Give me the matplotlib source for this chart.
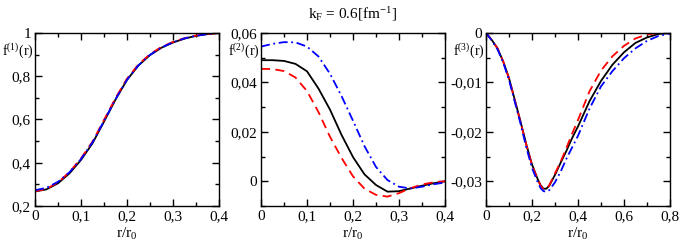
import numpy as np
import matplotlib
matplotlib.use('Agg')
import matplotlib.pyplot as plt
from matplotlib.ticker import MultipleLocator, FuncFormatter

plt.rcParams['font.family'] = 'Liberation Serif'
plt.rcParams['mathtext.fontset'] = 'custom'
plt.rcParams['mathtext.rm'] = 'Liberation Serif'
plt.rcParams['mathtext.it'] = 'Liberation Serif:italic'

# panel 1 / 2 grid
r_a = [0, 0.025, 0.05, 0.075, 0.1, 0.125, 0.15, 0.175, 0.2, 0.225, 0.25,
       0.275, 0.3, 0.325, 0.35, 0.375, 0.4]
f1_black = [0.267, 0.277, 0.305, 0.351, 0.413, 0.49, 0.59, 0.692, 0.783, 0.85,
            0.898, 0.932, 0.956, 0.974, 0.987, 0.995, 1.0]
f1_red = [0.268, 0.279, 0.309, 0.357, 0.42, 0.498, 0.598, 0.699, 0.789, 0.855,
          0.902, 0.936, 0.959, 0.976, 0.988, 0.996, 1.0]
f1_blue = [0.273, 0.284, 0.312, 0.356, 0.417, 0.494, 0.593, 0.694, 0.784, 0.851,
           0.899, 0.933, 0.957, 0.975, 0.987, 0.995, 1.0]

f2_black = [0.049, 0.049, 0.0487, 0.0475, 0.0445, 0.0375, 0.029, 0.0188, 0.0098,
            0.0028, -0.0015, -0.0042, -0.004, -0.0029, -0.0018, -0.0008, 0.0]
f2_red = [0.0455, 0.0454, 0.0446, 0.042, 0.0365, 0.028, 0.018, 0.0095, 0.002,
          -0.003, -0.0055, -0.0062, -0.0048, -0.0028, -0.0013, -0.0004, 0.0]
f2_blue = [0.0545, 0.0556, 0.0563, 0.0562, 0.0545, 0.0505, 0.0435, 0.0345, 0.0245,
           0.0142, 0.0058, 0.0005, -0.0022, -0.0029, -0.0022, -0.0012, -0.0005]

# panel 3 grid
r_b = [0, 0.025, 0.05, 0.075, 0.1, 0.125, 0.15, 0.175, 0.2, 0.225, 0.2375,
       0.25, 0.2625, 0.275, 0.3, 0.325, 0.35, 0.375, 0.4, 0.45, 0.5, 0.55,
       0.6, 0.65, 0.7, 0.75, 0.8]
f3_black = [0, -0.0014, -0.0031, -0.0058, -0.0091, -0.0135, -0.0179, -0.0225,
            -0.0266, -0.0296, -0.0308, -0.0315, -0.0315, -0.0309, -0.0287,
            -0.0262, -0.0238, -0.0212, -0.0189, -0.0138, -0.0097, -0.0064,
            -0.0039, -0.002, -0.0009, -0.0002, 0.0]
f3_red = [0, -0.0014, -0.0031, -0.0058, -0.0092, -0.0136, -0.018, -0.0226,
          -0.0267, -0.0297, -0.0309, -0.0316, -0.0315, -0.0308, -0.0284,
          -0.026, -0.0232, -0.0203, -0.0176, -0.0118, -0.0076, -0.0047,
          -0.0026, -0.0011, -0.0003, 0.0, 0.0]
f3_blue = [0, -0.0015, -0.0033, -0.006, -0.0095, -0.0139, -0.0183, -0.0231,
           -0.0273, -0.0302, -0.0314, -0.032, -0.0321, -0.0318, -0.0302,
           -0.028, -0.0254, -0.0231, -0.0208, -0.0153, -0.0108, -0.0077,
           -0.0051, -0.0031, -0.0016, -0.0006, -0.0001]


def comma(v, pos):
    if abs(v) < 1e-12:
        return '0'
    s = ('%.3f' % v).rstrip('0').rstrip('.')
    return s.replace('.', ',')


fig = plt.figure(figsize=(6.81, 2.46), dpi=100)
W, H = 681., 246.
lefts = [35, 261, 486]
w_ax = 184
panels = [
    (r_a, f1_black, f1_red, f1_blue, (0, 0.4), (0.2, 1.0), 0.1, 0.05, 0.2, 0.1, 'f$^{(1)}$(r)'),
    (r_a, f2_black, f2_red, f2_blue, (0, 0.4), (-0.01, 0.06), 0.1, 0.05, 0.02, 0.01, 'f$^{(2)}$(r)'),
    (r_b, f3_black, f3_red, f3_blue, (0, 0.8), (-0.035, 0.0), 0.2, 0.1, 0.01, 0.005, 'f$^{(3)}$(r)'),
]
for i, (x, yb, yr, yl, xl, yl_lim, xM, xm, yM, ym, lab) in enumerate(panels):
    ax = fig.add_axes([lefts[i] / W, 1 - 206 / H, w_ax / W, 173 / H])
    ax.plot(x, yb, color='black', lw=1.3)
    ax.plot(x, yr, color='red', lw=1.3, ls=(0, (5, 3)))
    ax.plot(x, yl, color='blue', lw=1.3, ls=(0, (5, 2, 1, 2)))
    ax.set_xlim(xl)
    ax.set_ylim(yl_lim)
    ax.xaxis.set_major_locator(MultipleLocator(xM))
    ax.xaxis.set_minor_locator(MultipleLocator(xm))
    ax.yaxis.set_major_locator(MultipleLocator(yM))
    ax.yaxis.set_minor_locator(MultipleLocator(ym))
    ax.xaxis.set_major_formatter(FuncFormatter(comma))
    ax.yaxis.set_major_formatter(FuncFormatter(comma))
    ax.tick_params(which='both', direction='in', top=True, right=True,
                   labelsize=11, width=1.0)
    ax.tick_params(which='major', length=5, pad=3)
    ax.tick_params(which='minor', length=3)
    for s in ax.spines.values():
        s.set_linewidth(1.0)
    ax.set_xlabel('r/r$_0$', fontsize=11, labelpad=2)
    fig.text((lefts[i] - 33) / W, 1 - 51 / H, lab, fontsize=10,
             ha='left', va='center')

fig.text(353 / W, 1 - 14 / H, r'k$_\mathrm{F}$ = 0.6[fm$^{-1}$]', fontsize=11,
         ha='center', va='center')

fig.savefig('out.png', dpi=100)
